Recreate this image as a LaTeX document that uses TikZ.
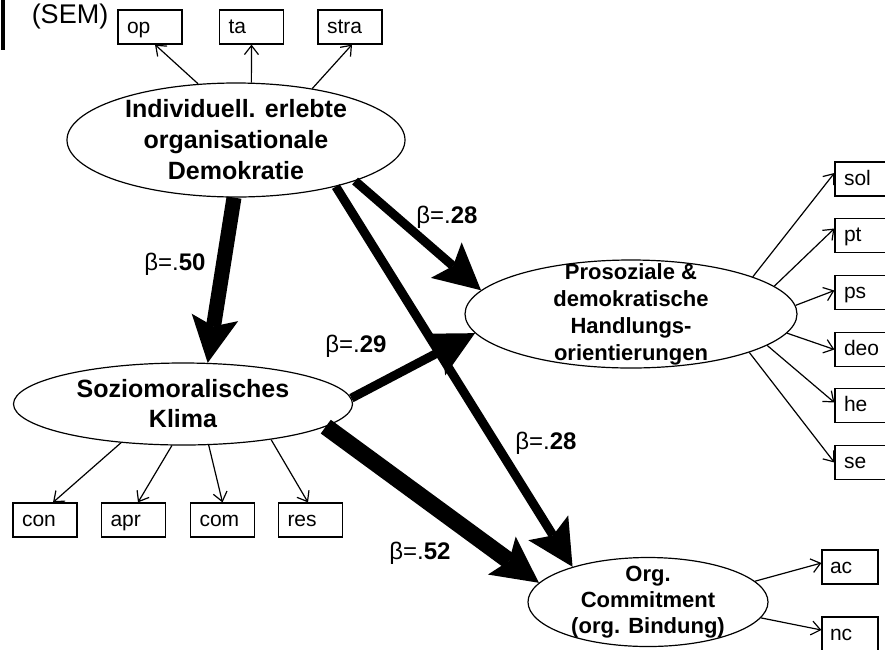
\documentclass[tikz,border=0pt]{standalone}
\usepackage{fontspec}
\setmainfont{Liberation Sans}
\usetikzlibrary{shapes.geometric,arrows.meta}
\newcommand\indtext[2][46pt]{\makebox[#1][l]{#2}}
\tikzset{
  lat/.style={draw,ellipse,line width=1.2pt,inner xsep=0pt,inner ysep=-60pt,align=center},
  ind/.style={draw,line width=1.2pt,minimum height=34pt,text height=16pt,text depth=4pt,inner xsep=9pt,inner ysep=0pt,font=\fontsize{21}{24}\selectfont},
  load/.style={line width=1.2pt,-{Straight Barb[length=9pt,width=14pt]}},
  eff/.style={line width=#1,-{Stealth[length=46pt,width=47pt,inset=9pt,line width=0pt]}},
  coef/.style={font=\fontsize{24}{28}\selectfont}
}
\begin{document}
\begin{tikzpicture}[x=1pt,y=-1pt]
\useasboundingbox (0,0) rectangle (885,649);
\clip (0,0) rectangle (885,649);
\draw[line width=4pt] (2.5,0) -- (2.5,50);
\node[font=\fontsize{27}{31}\selectfont] (sem) at(70,17) {(SEM)};
\node[lat,minimum width=338pt,minimum height=114pt,font=\fontsize{25}{31}\selectfont\bfseries] (ieod) at(236,140) {Individuell. erlebte\\organisationale\\Demokratie};
\node[lat,minimum width=339pt,minimum height=82pt,font=\fontsize{25}{30}\selectfont\bfseries] (klima) at(183,404) {Soziomoralisches\\Klima};
\node[lat,minimum width=332pt,minimum height=108pt,font=\fontsize{22}{27}\selectfont\bfseries] (proso) at(631,314) {Prosoziale \&\\demokratische\\Handlungs-\\orientierungen};
\node[lat,minimum width=240pt,minimum height=89pt,font=\fontsize{22}{26}\selectfont\bfseries] (commit) at(648,602) {Org.\\Commitment\\(org. Bindung)};
\node[ind] (op) at(150,27) {\indtext{op}};
\node[ind] (ta) at(251.5,27) {\indtext{ta}};
\node[ind] (stra) at(350,27) {\indtext{stra}};
\node[ind] (con) at(45,520) {\indtext{con}};
\node[ind] (apr) at(133.5,520) {\indtext{apr}};
\node[ind] (com) at(222.5,520) {\indtext{com}};
\node[ind] (res) at(310.5,520) {\indtext{res}};
\node[ind] (sol) at(867,179) {\indtext{sol}};
\node[ind] (pt) at(867,235.5) {\indtext{pt}};
\node[ind] (ps) at(867,292.5) {\indtext{ps}};
\node[ind] (deo) at(867,349.5) {\indtext{deo}};
\node[ind] (he) at(867,405.5) {\indtext{he}};
\node[ind] (se) at(867,462.5) {\indtext{se}};
\node[ind,inner xsep=8pt] (ac) at(850,567) {\indtext[40pt]{ac}};
\node[ind,inner xsep=8pt] (nc) at(850,634) {\indtext[40pt]{nc}};
\draw[load] (ieod.124) -- ([xshift=5pt]op.south);
\draw[load] (ieod.75) -- (ta.south);
\draw[load] (ieod.34) -- ([xshift=2pt]stra.south);
\draw[load] (klima.212) -- ([xshift=8pt]con.north);
\draw[load] (klima.255) -- ([xshift=4.5pt]apr.north);
\draw[load] (klima.302) -- (com.north);
\draw[load] (klima.338) -- ([xshift=-2.5pt]res.north);
\draw[load] (proso.17) -- ([yshift=6pt]sol.west);
\draw[load] (proso.11) -- ([yshift=7pt]pt.west);
\draw[load] (proso.3) -- ([yshift=2pt]ps.west);
\draw[load] (proso.353) -- (deo.west);
\draw[load] (proso.347) -- ([yshift=3pt]he.west);
\draw[load] (proso.342) -- (se.west);
\draw[load] (commit.11) -- ([yshift=4pt]ac.west);
\draw[load] (commit.352) -- ([yshift=4pt]nc.west);
\draw[eff=15pt] (ieod.268) -- (klima.59);
\draw[eff=9pt] (ieod.341) -- (proso.171);
\draw[eff=9pt] (ieod.335) -- (commit.155);
\draw[eff=9pt] (klima.2) -- (proso.187);
\draw[eff=17pt] (klima.351) -- (commit.170);
\node[coef] (b50) at(175,264) {β=.\textbf{50}};
\node[coef] (b28a) at(447,217) {β=.\textbf{28}};
\node[coef] (b29) at(356,346) {β=.\textbf{29}};
\node[coef] (b28b) at(546,443) {β=.\textbf{28}};
\node[coef] (b52) at(420,553) {β=.\textbf{52}};
\end{tikzpicture}
\end{document}
